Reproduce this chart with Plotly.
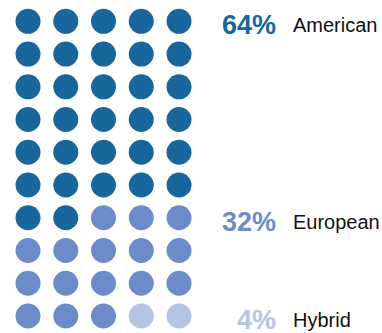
import plotly.graph_objects as go

# Waffle chart: 50 dots, each dot = 2% of the total
categories = ["American", "European", "Hybrid"]
shares = [64, 32, 4]
colors = ["#17669c", "#6b8cc8", "#b4c4e4"]

n_cols = 5
n_rows = 10
pct_per_dot = 100 // (n_cols * n_rows)

fig = go.Figure()
annotations = []
start = 0
for cat, share, col in zip(categories, shares, colors):
    n = share // pct_per_dot
    idx = list(range(start, start + n))
    xs = [i % n_cols for i in idx]
    ys = [i // n_cols for i in idx]
    fig.add_trace(go.Scatter(
        x=xs, y=ys, mode="markers", name=cat,
        marker=dict(size=25, color=col, line=dict(width=0)),
        hoverinfo="name",
    ))
    label_row = start // n_cols
    annotations.append(dict(
        x=6.62, y=label_row, xref="x", yref="y",
        text=f"<b>{share}%</b>", showarrow=False,
        xanchor="right", yanchor="middle", yshift=-4,
        font=dict(family="Liberation Sans, Arial, sans-serif", size=27, color=col),
    ))
    annotations.append(dict(
        x=6.96, y=label_row, xref="x", yref="y",
        text=cat, showarrow=False,
        xanchor="left", yanchor="middle", yshift=-4,
        font=dict(family="Liberation Sans, Arial, sans-serif", size=20, color="#111111"),
    ))
    start += n

fig.update_layout(
    width=382, height=333,
    margin=dict(l=0, r=0, t=0, b=0),
    paper_bgcolor="white", plot_bgcolor="white",
    showlegend=False,
    annotations=annotations,
    xaxis=dict(range=[-0.742, 9.377], visible=False, fixedrange=True),
    yaxis=dict(range=[9.52, -0.651], visible=False, fixedrange=True),
)

fig.write_html("out.html", config={"displayModeBar": False})
